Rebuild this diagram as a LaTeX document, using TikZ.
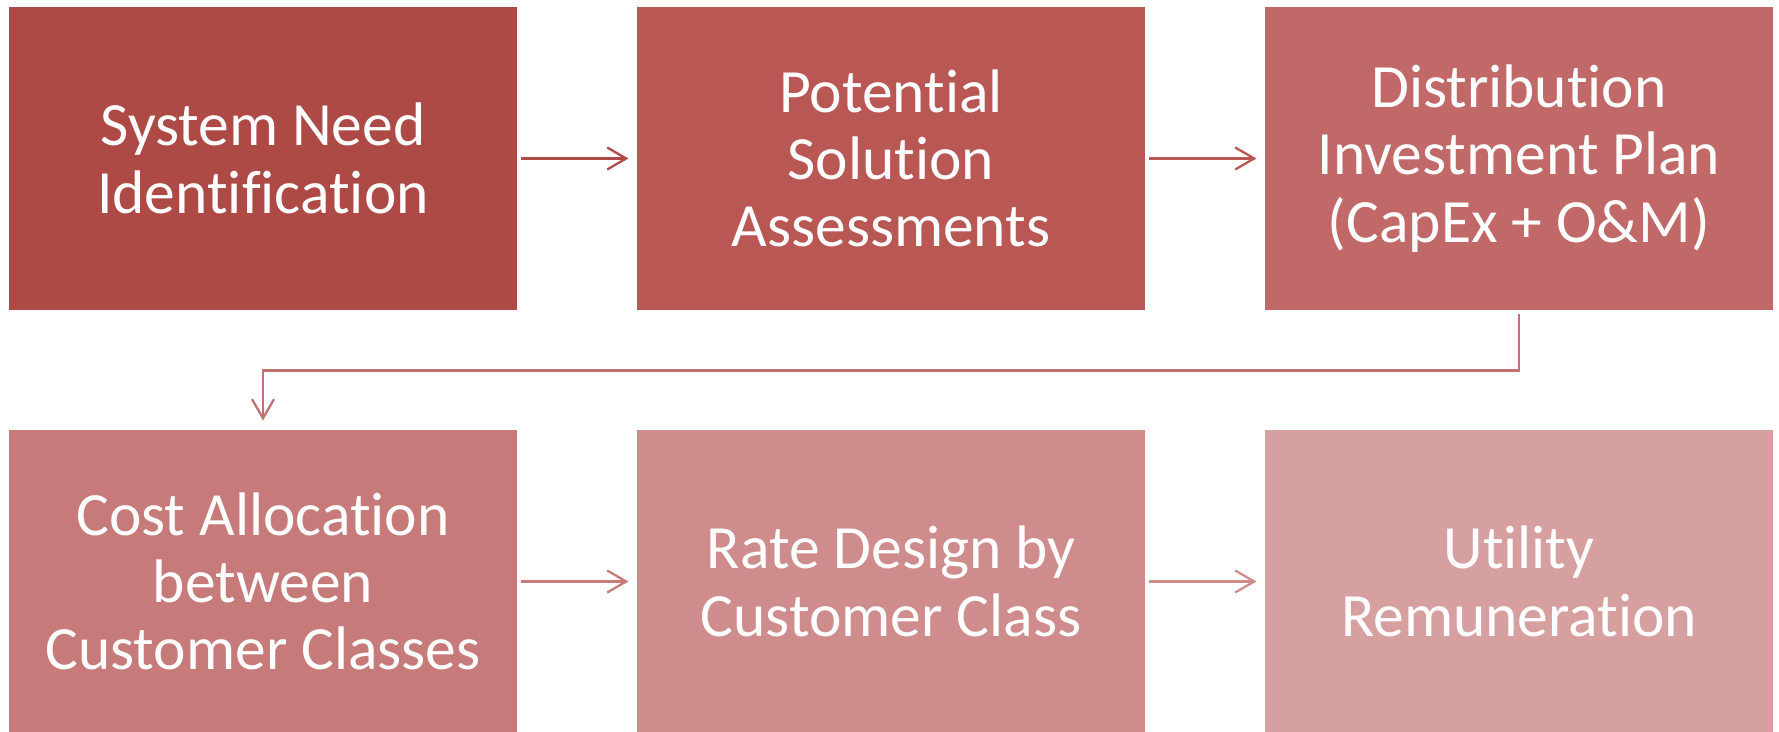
\documentclass[tikz,border=0pt]{standalone}
\usepackage{fontspec}
\setmainfont{Carlito}[Ligatures=NoCommon]
\usepackage{tikz}
\usetikzlibrary{arrows.meta, positioning}
\definecolor{shadeA}{HTML}{AE4A46}
\definecolor{shadeB}{HTML}{B95755}
\definecolor{shadeC}{HTML}{C16968}
\definecolor{shadeD}{HTML}{C67A79}
\definecolor{shadeE}{HTML}{CE8D8C}
\definecolor{shadeF}{HTML}{D6A0A0}
\newcommand{\stagefont}{\fontsize{35}{38.3}\selectfont}

\begin{document}
\begin{tikzpicture} [node distance =8.46cm and 12.56cm ,on grid, semithick, stage/.style ={rectangle, minimum width=10.16cm, minimum height=6.06cm, inner sep=0pt, text=white, align=center, font=\stagefont}, flow/.style ={line width=1.3pt, -{Straight Barb[length=3.8mm, width=4.4mm]}, shorten <=0.06cm, shorten >=0.16cm}]
\useasboundingbox (0,0) rectangle (35.58,-14.64);
\node[stage, fill=shadeA] (S1) at (5.26,-3.17) {System Need\\Identification};
\node[stage, fill=shadeB] (S2) [right=of S1] {Potential\\Solution\\Assessments};
\node[stage, fill=shadeC] (S3) [right=of S2] {Distribution\\Investment Plan\\(CapEx + O\&M)};
\node[stage, fill=shadeD] (S4) [below=of S1] {Cost Allocation\\between\\Customer Classes};
\node[stage, fill=shadeE] (S5) [right=of S4] {Rate Design by\\Customer Class};
\node[stage, fill=shadeF] (S6) [right=of S5] {Utility\\Remuneration};
\draw[flow, color=shadeA] (S1) -- (S2);
\draw[flow, color=shadeB] (S2) -- (S3);
\draw[flow, color=shadeD!95!black, shorten >=0.18cm] (S3.south) -- ++(0,-1.2) -| (S4.north);
\draw[flow, color=shadeD] (S4) -- (S5);
\draw[flow, color=shadeE] (S5) -- (S6);
\end{tikzpicture}
\end{document}
